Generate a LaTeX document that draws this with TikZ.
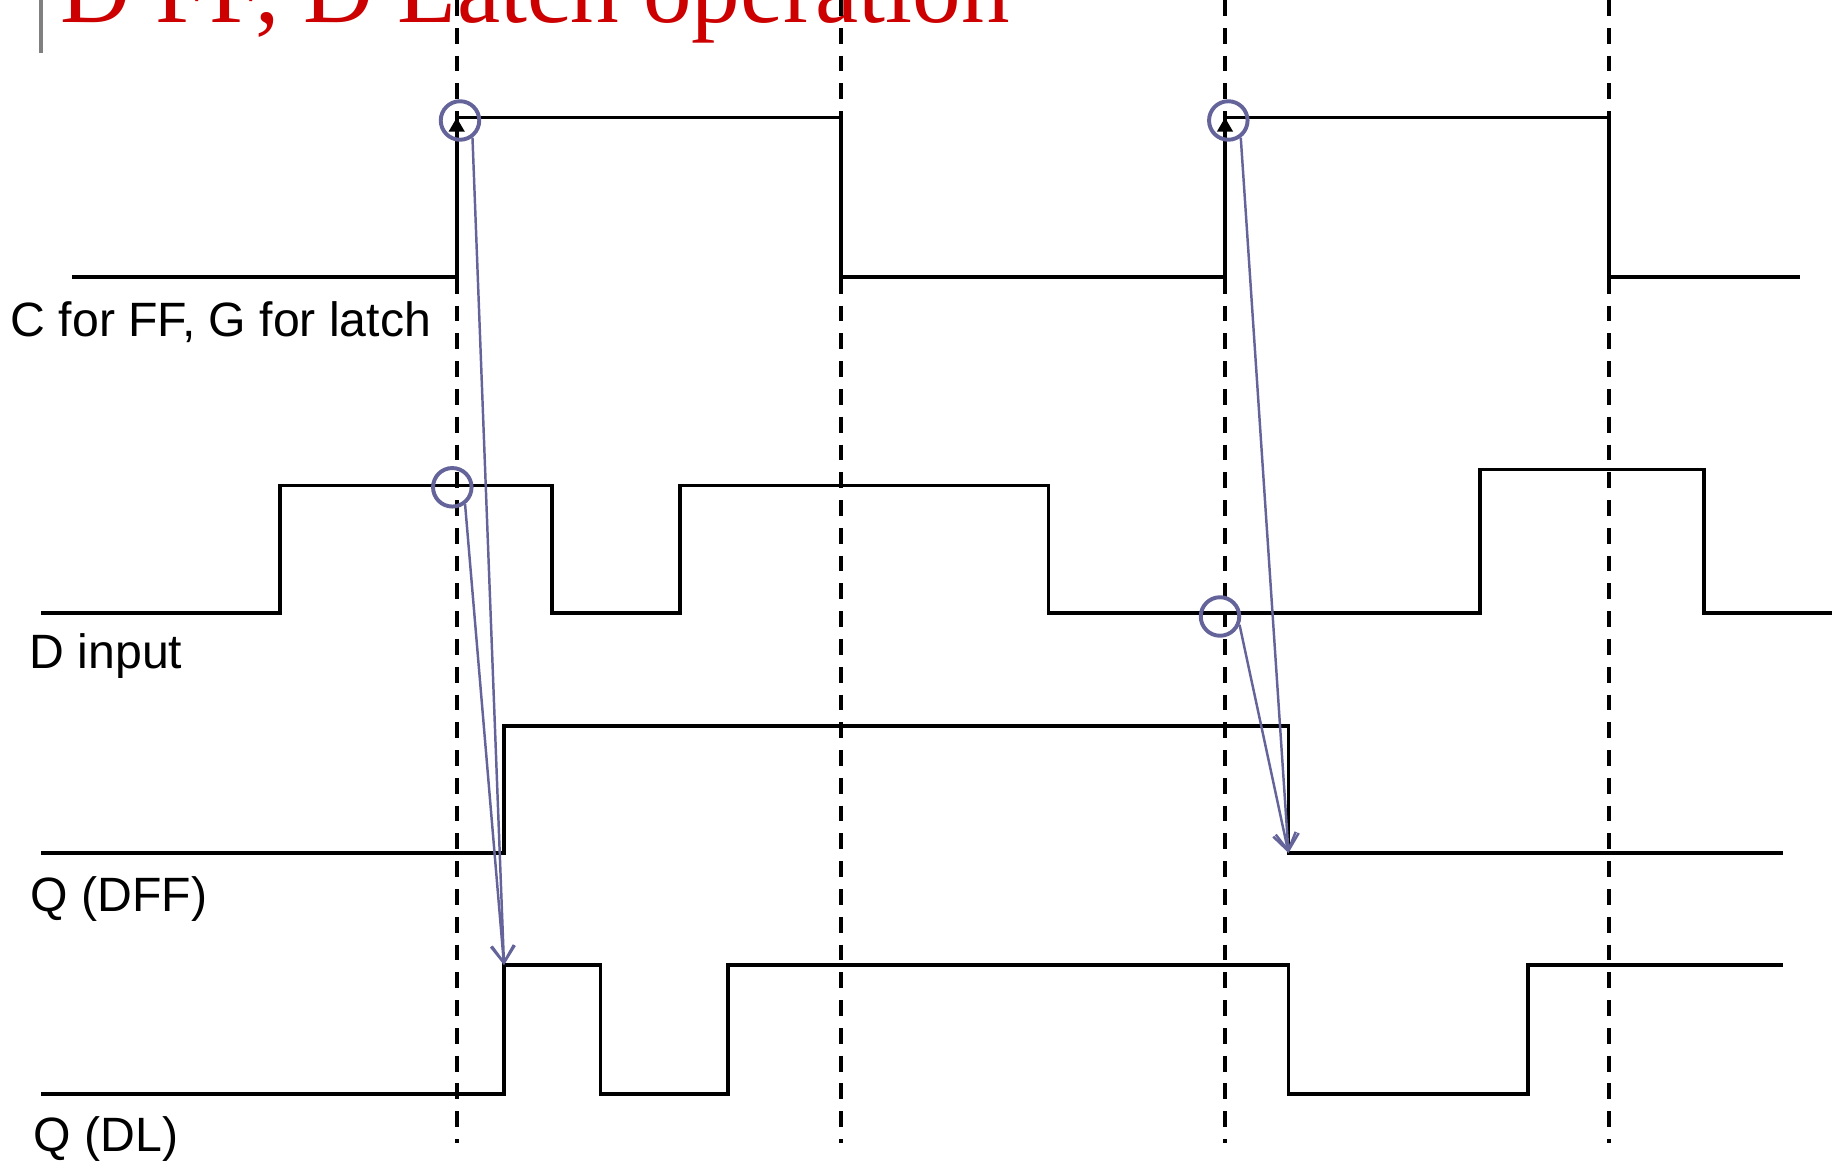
\documentclass[tikz,border=0pt]{standalone}
\usepackage{fontspec}
\setmainfont{Liberation Serif}
\newfontfamily\labfont{Liberation Sans}
\usetikzlibrary{arrows.meta}
\definecolor{titlered}{RGB}{204,0,0}
\definecolor{markc}{RGB}{100,100,155}
\begin{document}
\begin{tikzpicture}[x=0.01cm,y=-0.01cm,
 sig/.style={line width=1.12pt, line join=miter},
 gridline/.style={line width=1.1pt, dash pattern=on 4.5pt off 3.4pt},
 ring/.style={circle, draw=markc, line width=1.12pt, minimum size=0.385cm, inner sep=0pt},
 cause/.style={draw=markc, line width=0.7pt, -{Straight Barb[length=1.7mm,width=2.3mm]}},
 lab/.style={anchor=base west, inner sep=0pt, font=\labfont\fontsize{13.7pt}{16pt}\selectfont},
 edgetip/.style={-{Triangle[length=1.4mm,width=1.5mm]}, line width=1.12pt}]
\useasboundingbox (0,0) rectangle (1839,1167);
\clip (0,0) rectangle (1839,1167);
% title
\node[anchor=base west, inner sep=0pt, text=titlered, font=\fontsize{27.6pt}{30pt}\selectfont] (title) at (60,23) {D FF, D Latch operation};
\draw[gray, line width=0.9pt] (41,0) -- (41,53);
% dashed time markers
\foreach \x [count=\i] in {456.7, 840.9, 1225, 1609.2} {
  \coordinate (g\i t) at (\x,0);
  \coordinate (g\i b) at (\x,1143);
  \draw[gridline] (g\i t) -- (g\i b);
}
% C / G
\draw[sig] (72,277) -- (456.7,277) -- (456.7,117.5) -- (840.9,117.5) -- (840.9,277) -- (1225,277) -- (1225,117.5) -- (1609.2,117.5) -- (1609.2,277) -- (1800,277);
\coordinate (r1b) at (456.7,277); \coordinate (r1t) at (456.7,117.5);
\coordinate (r2b) at (1225,277); \coordinate (r2t) at (1225,117.5);
\draw[edgetip] (r1b) -- (r1t);
\draw[edgetip] (r2b) -- (r2t);
% D input
\draw[sig] (41,613) -- (280.3,613) -- (280.3,485.5) -- (552.4,485.5) -- (552.4,613) -- (680.2,613) -- (680.2,485.5) -- (1048.5,485.5) -- (1048.5,613) -- (1480,613) -- (1480,469.5) -- (1704,469.5) -- (1704,613) -- (1832,613);
% Q (DFF)
\draw[sig] (41,853) -- (504,853) -- (504,726) -- (1288.5,726) -- (1288.5,853) -- (1783,853);
% Q (DL)
\draw[sig] (41,1094) -- (504,1094) -- (504,965) -- (600.5,965) -- (600.5,1094) -- (728.3,1094) -- (728.3,965) -- (1288.5,965) -- (1288.5,1094) -- (1528.2,1094) -- (1528.2,965) -- (1783,965);
\coordinate (dlrise) at (504,965);
\coordinate (dfffall) at (1288.5,853);
% circles
\node[ring] (c1) at (460,120.5) {};
\node[ring] (c2) at (1228.3,120.5) {};
\node[ring] (c3) at (452.3,487.3) {};
\node[ring] (c4) at (1220,616.5) {};
% cause arrows
\draw[cause] (c1.-54) -- (dlrise);
\draw[cause] (c3.-53) -- (dlrise);
\draw[cause] (c2.-54) -- (dfffall);
\draw[cause] (c4.-23) -- (dfffall);
% labels
\node[lab] (lc) at (10,337) {C for FF, G for latch};
\node[lab] (ld) at (29,669) {D input};
\node[lab] (lq1) at (30,911) {Q (DFF)};
\node[lab] (lq2) at (33,1151) {Q (DL)};
\end{tikzpicture}
\end{document}
